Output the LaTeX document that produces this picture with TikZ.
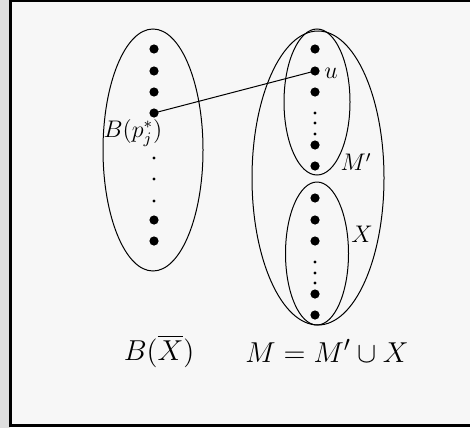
\documentclass[tikz,border=0pt]{standalone}
\usepackage{amsmath}
\usepackage{xcolor}
\usepackage{tikz}
\usetikzlibrary{positioning}
\definecolor{pagegray}{rgb}{0.97,0.97,0.97}
\definecolor{stripgray}{rgb}{0.87,0.87,0.87}

\begin{document}
\begin{tikzpicture}[x=0.5pt,y=-0.5pt,
   dot/.style={circle,fill,inner sep=0pt,minimum size=4.6pt},
   sdot/.style={circle,fill,inner sep=0pt,minimum size=1.7pt},
   set/.style={draw,line width=0.5pt},
   lbl/.style={font=\fontsize{12}{14}\selectfont},
   caption/.style={font=\fontsize{15.6}{18}\selectfont}]
  \useasboundingbox (0,0) rectangle (470,428);
  \clip (0,0) rectangle (470,428);
  \fill[stripgray] (0,0) rectangle (470,428);
  \fill[white] (10,424) rectangle (470,428);
  \fill[pagegray] (10.5,0.8) rectangle (480,425.5);
  \draw[line width=1.5pt] (480,0.8) -- (10.5,0.8) -- (10.5,425.5) -- (480,425.5);
  % left set
  \draw[set] (153,150) ellipse [x radius=25pt,y radius=60.5pt];
  \foreach \i/\y in {1/49,2/71,3/92,4/113,8/220,9/241}
    \node[dot] (l\i) at (154,\y) {};
  \foreach \i/\y in {5/158,6/179,7/201}
    \node[sdot] (l\i) at (154,\y) {};
  \node[lbl] (bp) at (133,133) {$B(p_j^*)$};
  % right set M
  \draw[set] (318,178) ellipse [x radius=33pt,y radius=73.5pt];
  \draw[set] (317,102) ellipse [x radius=16.5pt,y radius=36.5pt];
  \draw[set] (317,253.5) ellipse [x radius=15.75pt,y radius=35.75pt];
  \foreach \i/\y in {1/49,2/71,3/92,7/145,8/166,9/198,10/220,11/241,15/294,16/315}
    \node[dot] (r\i) at (315,\y) {};
  \foreach \i/\y in {4/113,5/123,6/134,12/262,13/273,14/283}
    \node[sdot] (r\i) at (315,\y) {};
  \node[lbl] (u) at (331,73) {$u$};
  \node[lbl] (mp) at (356,162) {$M'$};
  \node[lbl] (x) at (362,234) {$X$};
  \draw[line width=0.5pt] (l4.center) -- (r2.center);
  % captions
  \node[caption] (bx) at (159,351) {$B(\overline{X})$};
  \node[caption] (mm) at (327,351) {$M = M' \cup X$};
\end{tikzpicture}
\end{document}
